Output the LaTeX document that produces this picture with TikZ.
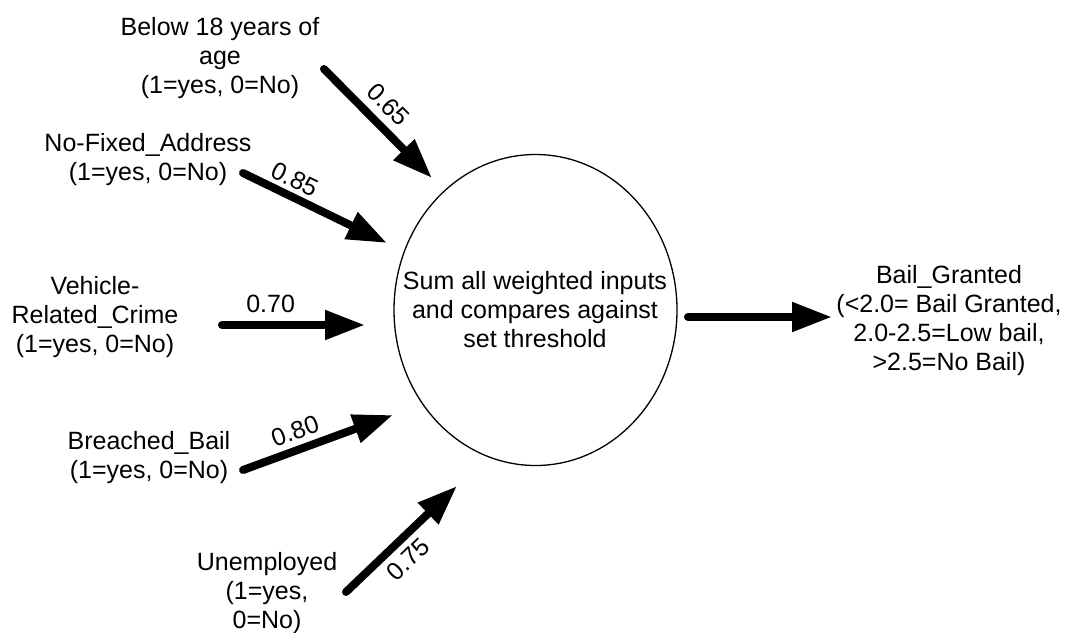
\documentclass[tikz,border=0pt]{standalone}
\usepackage{fontspec}
\setmainfont{Liberation Sans}
\usetikzlibrary{arrows.meta,shapes.geometric}

\begin{document}
\begin{tikzpicture}[x=1pt,y=-1pt,
  every node/.style={font=\fontsize{25}{29}\selectfont,align=center,inner sep=0pt},
  weight/.style={line width=8pt,line cap=round,-{Triangle[length=40pt,width=28pt]}},
  wlabel/.style={sloped,inner sep=2pt}]
\useasboundingbox (0,0) rectangle (1067,632);

% inputs
\node (age) at (220,58) {Below 18 years of\\age\\(1=yes, 0=No)};
\node (address) at (148,160) {No-Fixed\_Address\\(1=yes, 0=No)};
\node (vehicle) at (95,317) {Vehicle-\\Related\_Crime\\(1=yes, 0=No)};
\node (breached) at (149,458) {Breached\_Bail\\(1=yes, 0=No)};
\node (unemployed) at (267,593) {Unemployed\\(1=yes,\\0=No)};

% neuron and output
\node[draw,ellipse,line width=1.3pt,minimum width=283pt,minimum height=311pt] (sum) at (535.5,310) {};
\node (sumtext) at (535,310) {Sum all weighted inputs\\and compares against\\set threshold};
\node (bail) at (949,321) {Bail\_Granted\\(<2.0= Bail Granted,\\2.0-2.5=Low bail,\\>2.5=No Bail)};

% arrow ends
\coordinate (s1) at (324,69);  \coordinate (t1) at (432,178);
\coordinate (s2) at (243,173); \coordinate (t2) at (387,243);
\coordinate (s3) at (222,325); \coordinate (t3) at (365,325);
\coordinate (s4) at (243,470); \coordinate (t4) at (393,415);
\coordinate (s5) at (346,592); \coordinate (t5) at (457,486);
\coordinate (s6) at (688,317); \coordinate (t6) at (832,317);

\draw[weight] (s1) -- node[wlabel,pos=.46,above=6pt] {0.65} (t1);
\draw[weight] (s2) -- node[wlabel,pos=.31,above=2pt] {0.85} (t2);
\draw[weight] (s3) -- node[wlabel,pos=.34,above=6pt] {0.70} (t3);
\draw[weight] (s4) -- node[wlabel,pos=.39,above=4pt] {0.80} (t4);
\draw[weight] (s5) -- node[wlabel,pos=.44,below=4pt] {0.75} (t5);
\draw[weight] (s6) -- (t6);
\end{tikzpicture}
\end{document}
